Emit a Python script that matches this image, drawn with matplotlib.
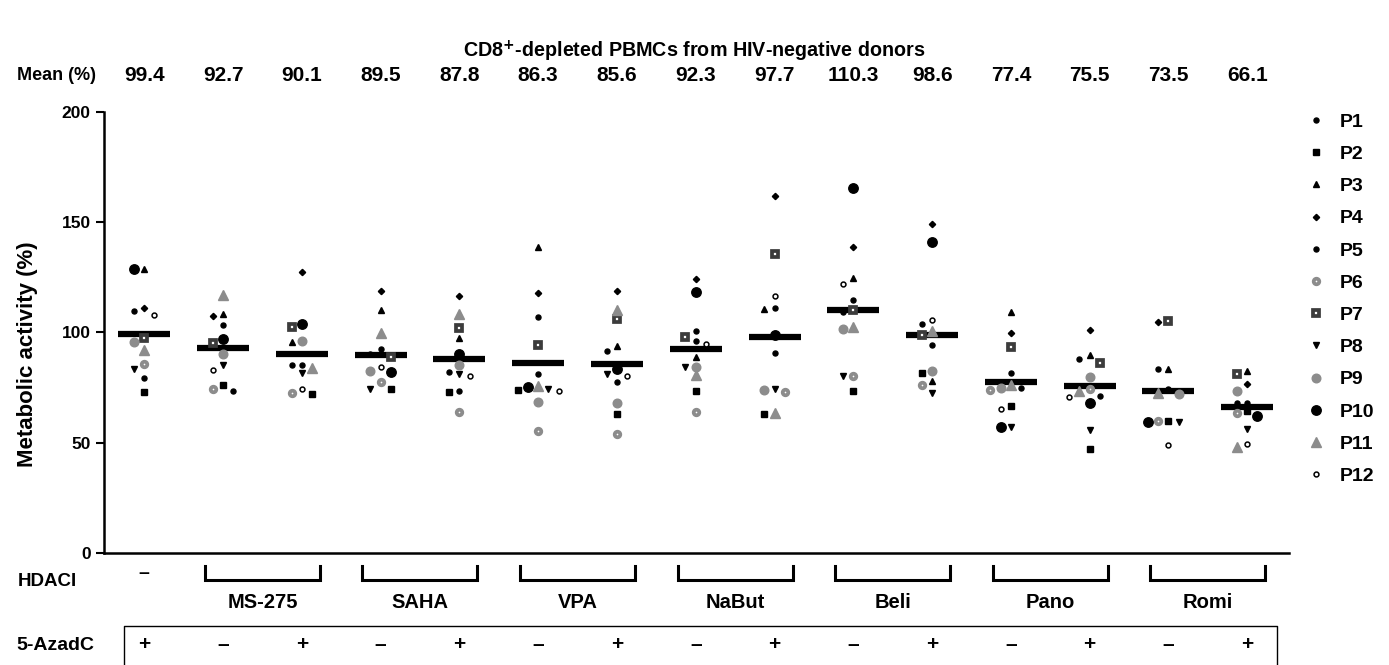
import matplotlib
matplotlib.use("Agg")
import matplotlib.pyplot as plt
import numpy as np

plt.rcParams['font.family'] = ['Liberation Sans', 'DejaVu Sans']
plt.rcParams['font.weight'] = 'bold'

# conditions (15 columns)
hdaci_groups = ["MS-275", "SAHA", "VPA", "NaBut", "Beli", "Pano", "Romi"]
azadc = ["+", "\u2013", "+", "\u2013", "+", "\u2013", "+", "\u2013", "+",
         "\u2013", "+", "\u2013", "+", "\u2013", "+"]
means = [99.4, 92.7, 90.1, 89.5, 87.8, 86.3, 85.6, 92.3, 97.7, 110.3, 98.6,
         77.4, 75.5, 73.5, 66.1]

# metabolic activity (%) per donor, one value per condition
p1 = [109.7, 103.2, 85.2, 92.3, 82.1, 106.8, 91.4, 100.6, 110.9, 114.7, 103.6, 81.4, 88.0, 83.3, 68.1]
p2 = [72.9, 76.1, 71.9, 74.3, 73.1, 73.8, 62.9, 73.5, 62.8, 73.4, 81.4, 66.7, 46.9, 59.8, 64.3]
p3 = [128.7, 108.3, 95.7, 110.1, 97.6, 138.8, 93.8, 88.9, 110.6, 124.8, 78.0, 109.1, 89.7, 83.3, 82.6]
p4 = [110.9, 107.4, 127.4, 118.9, 116.6, 117.7, 118.9, 124.3, 162.0, 138.8, 149.0, 99.5, 101.0, 104.8, 76.5]
p5 = [79.4, 73.5, 85.2, 90.2, 73.5, 80.9, 77.3, 95.9, 90.5, 109.1, 94.1, 74.6, 71.1, 74.1, 68.1]
p6 = [85.6, 74.4, 72.6, 77.3, 64.0, 55.0, 53.7, 63.8, 73.1, 80.2, 75.9, 73.8, 74.1, 59.8, 63.2]
p7 = [97.3, 95.3, 102.5, 89.0, 101.8, 94.2, 106.0, 97.7, 135.5, 110.0, 98.7, 93.5, 86.2, 105.1, 80.9]
p8 = [83.3, 85.2, 81.4, 74.3, 80.9, 74.3, 80.9, 84.1, 74.3, 80.2, 72.6, 56.9, 55.7, 59.4, 56.0]
p9 = [95.7, 90.2, 96.2, 82.4, 85.2, 68.5, 67.8, 84.4, 73.8, 101.4, 82.6, 74.9, 79.9, 72.0, 73.4]
p10 = [128.7, 96.8, 103.9, 82.1, 90.0, 75.3, 83.5, 118.4, 98.8, 165.6, 141.0, 56.9, 67.8, 59.4, 61.9]
p11 = [92.0, 116.9, 83.9, 99.5, 108.2, 75.8, 110.1, 80.5, 63.5, 102.5, 100.7, 75.9, 73.5, 72.6, 47.8]
p12 = [108.0, 82.9, 74.4, 84.4, 80.3, 73.5, 80.3, 94.6, 116.5, 121.9, 105.6, 65.2, 70.8, 48.9, 49.3]

donors = ["P1", "P2", "P3", "P4", "P5", "P6", "P7", "P8", "P9", "P10", "P11", "P12"]
values = [p1, p2, p3, p4, p5, p6, p7, p8, p9, p10, p11, p12]

gray = "#8c8c8c"
styles = [
    dict(marker="o", ms=3.6, mfc="black", mec="black"),
    dict(marker="s", ms=3.8, mfc="black", mec="black"),
    dict(marker="^", ms=4.6, mfc="black", mec="black"),
    dict(marker="D", ms=3.2, mfc="black", mec="black"),
    dict(marker="o", ms=3.6, mfc="black", mec="black"),
    dict(marker="o", ms=4.0, mfc="white", mec=gray, mew=2.7),
    dict(marker="s", ms=3.8, mfc="white", mec="#3c3c3c", mew=2.7),
    dict(marker="v", ms=4.6, mfc="black", mec="black"),
    dict(marker="o", ms=6.2, mfc=gray, mec=gray),
    dict(marker="o", ms=6.8, mfc="black", mec="black"),
    dict(marker="^", ms=7.0, mfc=gray, mec=gray),
    dict(marker="o", ms=3.5, mfc="white", mec="black", mew=1.1),
]

ncol = len(means)
xpos = np.arange(1, ncol + 1)
vals = np.array(values)

# simple horizontal dodge so close points do not sit on top of each other
step = 0.13
offsets = np.zeros_like(vals)
for j in range(ncol):
    placed = []
    for i in np.argsort(-vals[:, j]):
        for cand in [0, -step, step, -2 * step, 2 * step]:
            if all(abs(vals[i, j] - v) > 3.5 or abs(cand - o) > step * 0.9 for v, o in placed):
                break
        offsets[i, j] = cand
        placed.append((vals[i, j], cand))

fig = plt.figure(figsize=(13.89, 6.65), dpi=100)
ax = fig.add_axes([0.0749, 0.1689, 0.8531, 0.6627])

ax.hlines(means, xpos - 0.33, xpos + 0.33, colors="black", lw=4.5, zorder=2)
for i, d in enumerate(donors):
    ax.plot(xpos + offsets[i], vals[i], ls="none", label=d, zorder=3, **styles[i])

ax.set_xlim(0.49, 15.53)
ax.set_ylim(0, 200)
ax.set_yticks([0, 50, 100, 150, 200])
ax.tick_params(axis="y", labelsize=12.5, width=1.5, length=6)
ax.set_xticks([])
for s in ["top", "right"]:
    ax.spines[s].set_visible(False)
ax.spines["left"].set_linewidth(1.8)
ax.spines["bottom"].set_linewidth(1.8)

fig.text(0.020, 0.468, "Metabolic activity (%)", rotation=90, ha="center", va="center", fontsize=16)

ax.legend(loc="upper left", bbox_to_anchor=(1.0, 1.037), frameon=False, fontsize=14,
          markerscale=1.0, handlelength=1.0, handletextpad=0.7, labelspacing=0.75)

# title and mean row
fig.text(0.5, 0.923, r"CD8$^{\mathbf{+}}$-depleted PBMCs from HIV-negative donors",
         ha="center", va="center", fontsize=14.2)
fig.text(0.041, 0.886, "Mean (%)", ha="center", va="center", fontsize=13)
trans = ax.get_xaxis_transform()
for x, m in zip(xpos, means):
    ax.text(x, 1.082, f"{m:.1f}", transform=trans, ha="center", va="center", fontsize=15)

# HDACI row
fig.text(0.034, 0.125, "HDACI", ha="center", va="center", fontsize=13.5)
ax.text(xpos[0], -0.048, "\u2013", transform=trans, ha="center", va="center", fontsize=14)
for g, name in enumerate(hdaci_groups):
    a, b = xpos[1 + 2 * g], xpos[2 + 2 * g]
    ax.plot([a - 0.23, a - 0.23, b + 0.23, b + 0.23], [-0.030, -0.062, -0.062, -0.030],
            transform=trans, color="black", lw=2.2, clip_on=False, solid_joinstyle="miter")
    ax.text((a + b) / 2, -0.112, name, transform=trans, ha="center", va="center", fontsize=14.5)

# 5-AzadC row
fig.text(0.040, 0.030, "5-AzadC", ha="center", va="center", fontsize=14)
ax.plot([0.746, 0.746, 15.38, 15.38], [-0.26, -0.166, -0.166, -0.26], transform=trans,
        color="black", lw=1.0, clip_on=False)
for x, s in zip(xpos, azadc):
    ax.text(x, -0.209, s, transform=trans, ha="center", va="center", fontsize=15)

fig.savefig("out.png", dpi=100)
